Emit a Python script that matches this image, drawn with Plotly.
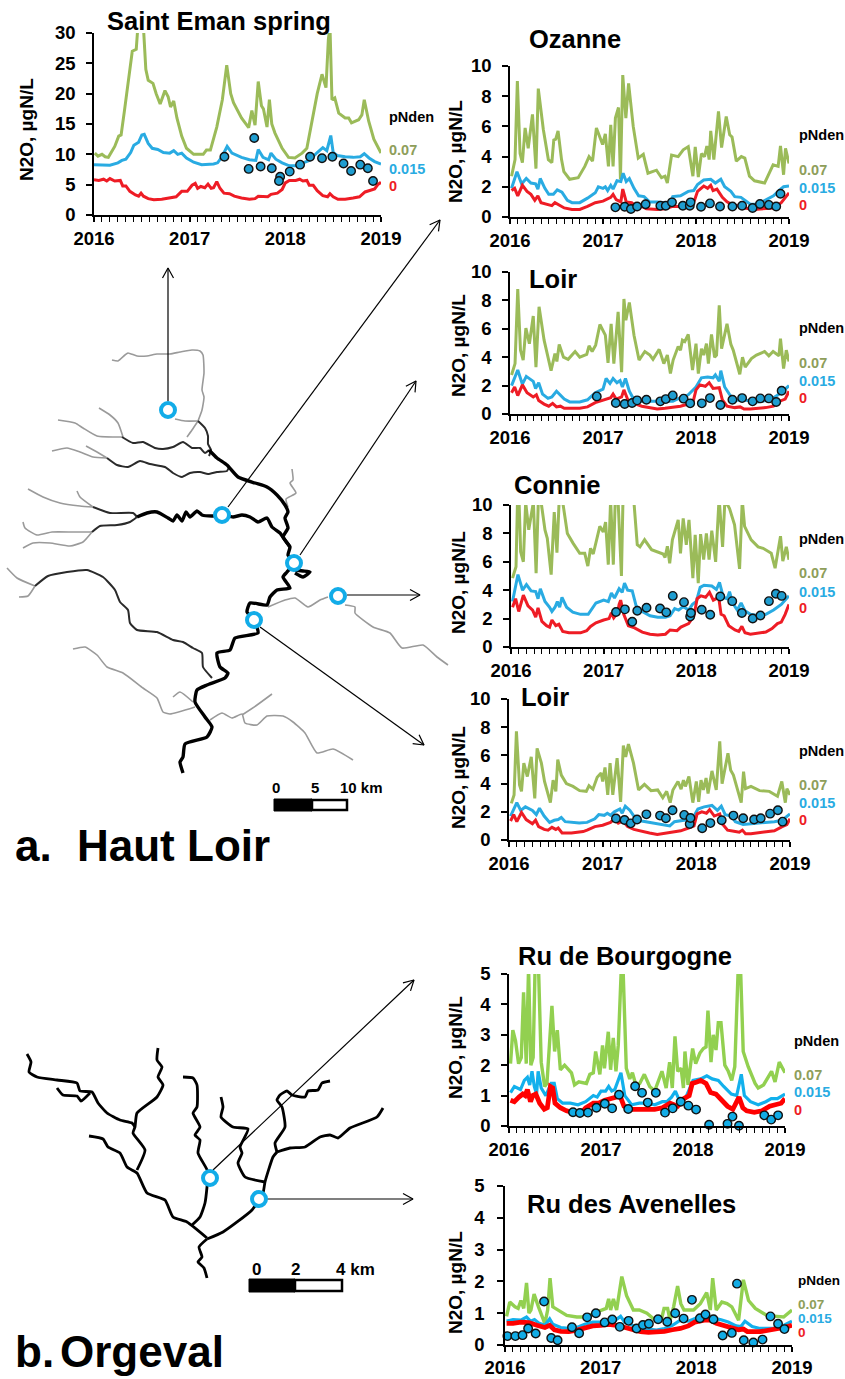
import plotly.graph_objects as go

# ---- time axis: months since January 2016 ----
year_ticks = [0, 12, 24, 36]
year_labels = ["2016", "2017", "2018", "2019"]

# ---- Saint Eman spring ----
eman_green = [(0.1,10.2),(0.5,9.7),(1,10),(1.4,9.6),(1.8,9.5),(2.2,10.5),(2.6,11.3),(3.1,13),(3.4,13.2),(3.8,17),(4.3,22),(4.8,27),(5.3,27.3),(5.5,31),(6.2,31),(6.5,24),(6.8,22.2),(7.4,21.7),(7.8,20),(8.3,18.3),(8.9,20.5),(9.3,19.5),(9.6,17.8),(10,18.8),(10.4,16),(11,13),(11.6,11),(12.5,10),(13.3,10),(13.7,10),(14.1,10.7),(14.6,10.7),(15.4,14.5),(16.1,19),(16.65,24.7),(17.15,20),(17.5,18.5),(18.1,17),(18.5,16),(19.4,14.4),(19.8,17.2),(20.2,14.8),(20.6,22),(21,18),(21.25,17.5),(21.7,14.5),(22,19),(22.3,15),(22.7,13.5),(23.6,11),(24.4,9.5),(25.2,9.4),(26.1,10.2),(26.7,11),(27.3,15),(28,20),(28.6,23.2),(29.1,21),(29.4,29),(29.6,31),(29.85,19),(30.2,19.3),(30.7,16.8),(31.5,16),(31.95,16),(32.3,15.2),(33.2,15.7),(33.6,16.5),(33.9,19),(34.45,15.5),(35.1,12.5),(36,10.2)]
eman_blue = [(0,8.3),(1,8.3),(2,8.2),(3,8.6),(3.5,9),(4,9.2),(4.6,10.3),(5,11.5),(5.6,12),(6,13.2),(6.3,13.3),(6.8,11.8),(7.3,11),(8,10.8),(8.7,10.3),(9.5,10.2),(10,10.6),(10.5,10),(11,10.2),(11.6,9.4),(12.5,8.7),(13.5,8.3),(15,8.4),(15.5,8.6),(16,9.5),(16.7,11.3),(17.3,10.2),(18.5,9.5),(19.5,9.1),(20.3,9.0),(20.6,10.8),(21.2,9.5),(21.9,9.1),(22.2,10.2),(22.8,9.2),(23.6,8.6),(24.5,8.1),(25.3,8.1),(26,8.5),(27,9),(28,10.3),(28.7,11.1),(29.2,10.6),(29.7,13.1),(30,10.3),(30.5,9.8),(31.5,9.6),(32.5,9.5),(33.4,9.6),(33.9,10.1),(34.5,9.4),(35.2,8.8),(36,8.4)]
eman_red = [(0,5.8),(0.6,5.7),(1.2,5.9),(1.6,5.6),(2,6),(2.6,5.6),(3.3,5.7),(3.6,4.8),(4,4.8),(4.5,3.9),(5.2,3.3),(5.6,3.1),(5.9,3.6),(6.2,3.1),(6.8,2.7),(7.5,2.5),(8.5,2.6),(9.5,2.8),(10.3,3.0),(11,3.9),(11.7,3.9),(12.3,4.9),(12.7,5.2),(13,4.4),(13.4,4.7),(13.9,4.5),(14.3,5.1),(14.7,4.4),(15,4.5),(15.4,5.5),(15.8,4.4),(16.3,3.6),(17,3.5),(17.6,3.1),(18.5,2.8),(19.5,2.6),(20.2,2.7),(20.6,3.1),(21.2,3.1),(21.8,3),(22.2,3.4),(23,3.6),(23.6,4.2),(24,5.3),(24.5,5.7),(25.3,5.7),(25.8,5.9),(26.2,5.6),(26.7,5.7),(27,4.9),(27.5,4.9),(28,4),(28.7,3.2),(29.3,3.0),(29.6,3.5),(30,3),(30.6,2.6),(31.5,2.6),(32.5,2.8),(33.3,3),(34,3.8),(34.6,4),(35.2,4.3),(35.6,5),(36,5.4)]
eman_obs = [(16.36,9.6),(19.4,7.6),(20.1,12.7),(20.9,8),(22.3,7.7),(23.35,6.3),(23.2,5.6),(24.55,7.15),(25.85,8.3),(27.1,9.6),(28.6,9.35),(29.9,9.6),(31.3,8.5),(32.25,7.25),(33.4,8.3),(34.35,7.7),(35,5.6)]

# ---- Ozanne ----
ozanne_green = [(0.2,2.7),(0.65,3.8),(0.95,9.0),(1.3,4.2),(1.6,3.6),(1.95,5.9),(2.35,4.55),(2.9,6.8),(3.35,3.2),(3.65,8.5),(4.3,5.8),(4.95,3.8),(5.4,3.6),(5.65,5.1),(5.9,5.15),(6.2,5.7),(6.65,3.8),(6.95,3.0),(7.7,2.5),(8.8,2.6),(9.65,3.35),(10.2,4),(10.65,3.7),(11.15,5.9),(11.95,4.8),(12.3,5.5),(12.7,3.35),(13,6.1),(13.3,3.35),(13.6,6.55),(14,7.25),(14.25,2.5),(14.55,9.4),(14.95,6.55),(15.3,8.85),(15.9,6),(16.55,3.9),(17.2,4.15),(17.8,2.9),(18.9,3.1),(19.55,2.6),(20,2.7),(20.3,2.25),(20.85,4.1),(21.7,4),(22.35,4.45),(23,4.65),(23.6,2.7),(23.9,4.65),(24.3,2.65),(24.7,4.2),(25.1,4),(25.4,4.7),(25.7,3.8),(25.9,5.7),(26.3,3.8),(26.9,7),(27.3,4.6),(27.9,6.65),(28.35,5.45),(28.65,5.3),(29.2,3.7),(29.85,4),(30.3,3.9),(30.9,2.7),(31.55,2.4),(32.85,2.25),(33.95,3.45),(34.6,3.35),(34.9,4.7),(35.3,2.8),(35.55,4.55),(36,3.55)]
ozanne_blue = [(0.2,1.9),(0.9,3.0),(1.5,2.2),(2.1,2.55),(2.7,2.25),(3.3,2.2),(3.6,1.85),(3.9,2.55),(4.5,1.9),(5,1.5),(5.6,1.5),(6.1,1.8),(6.7,1.65),(7.4,1.1),(8,0.95),(9,0.95),(10,1.25),(11,1.6),(11.4,2),(12,1.9),(12.3,2),(12.6,1.75),(13,2.1),(13.3,1.85),(13.8,2.4),(14.3,2.35),(14.6,2.9),(15,2.35),(15.4,2.55),(16,1.9),(16.6,1.4),(17.3,1.35),(18,1),(19,1),(20,0.95),(20.7,0.95),(21,1.35),(22,1.4),(23,1.7),(23.7,1.75),(24.2,2.15),(25,2.45),(25.9,2.5),(26.5,2.25),(27.2,2.5),(27.7,2),(28.5,1.7),(29,1.35),(29.8,1.3),(30.5,1.0),(31,0.85),(32,0.85),(33,1.1),(34,1.4),(34.8,1.8),(35.3,2),(36,2.05)]
ozanne_red = [(0.2,1.75),(0.6,1.9),(1.0,1.4),(1.6,2.1),(2.2,1.7),(2.7,1.5),(3.2,1.1),(3.6,1.4),(4,0.95),(5,0.8),(5.4,0.75),(5.8,0.95),(6.4,0.8),(7,0.6),(8,0.5),(9,0.5),(10,0.7),(11,0.95),(12,1.05),(13,1.3),(13.3,1.5),(13.7,1.15),(14.3,1.0),(14.55,1.85),(15,1.0),(15.7,0.95),(16.3,0.7),(17,0.7),(17.6,0.55),(19,0.5),(20,0.55),(21,0.7),(22,0.7),(23,0.85),(23.8,1.1),(24.2,1.7),(25,2.05),(25.5,1.9),(25.9,2.1),(26.2,1.75),(26.7,1.85),(27.4,1.3),(28,1),(28.7,0.8),(29.5,0.75),(30.3,0.6),(31.5,0.5),(33,0.55),(34,0.6),(35,0.95),(35.5,1.3),(36,1.6)]
ozanne_obs = [(13.6,.64),(14.8,.68),(15.6,.53),(16.4,.7),(17.5,.84),(19.4,.75),(20.1,.75),(20.9,.97),(22.3,.75),(23.2,.75),(23.3,.97),(24.65,.68),(25.8,.9),(27.1,.7),(28.7,.7),(29.95,.75),(31.3,.6),(32.25,.86),(33.4,.8),(34.35,.7),(34.9,1.54)]

# ---- Loir (upper) ----
loir1_green = [(.2,2.75),(.65,3.55),(1,8.8),(1.35,4.5),(1.7,3.8),(2.05,6.05),(2.5,4.95),(3,6.9),(3.35,3.3),(3.75,7.55),(4.4,5.2),(4.8,4.15),(5.3,3.05),(5.8,4.25),(6.05,3.7),(6.35,4.9),(6.9,4),(7.5,3.85),(8.4,4.4),(9,4),(9.9,4.2),(10.2,4.8),(10.6,4.4),(11.05,4.85),(11.6,6.3),(12.3,5.55),(12.65,3.6),(13.05,6.35),(13.4,3.55),(13.95,7.2),(14.4,2.95),(14.7,8.1),(14.95,6.6),(15.4,7.85),(16,5.55),(16.65,3.8),(17.4,4.4),(18.05,4.15),(18.45,3.85),(19.25,4.55),(19.85,3.55),(20.3,4.15),(20.7,2.85),(21.05,3.8),(21.7,4.75),(22,4.5),(22.25,5.2),(22.55,5.1),(23,5.6),(23.55,3.1),(24,4.95),(24.3,2.85),(24.7,4.6),(25,4.15),(25.35,4.95),(25.6,3.55),(26,5.6),(26.4,4),(26.65,4.15),(27,7.65),(27.3,4.6),(28,6.35),(28.5,4.9),(28.8,4.5),(29.65,2.8),(30,4),(30.35,3.3),(31.15,3.9),(31.8,4.15),(32.85,4.4),(33.4,4.1),(33.95,4.4),(34.7,4.1),(34.9,5.3),(35.3,3.2),(35.65,4.5),(36,3.7)]
loir1_blue = [(.2,2),(1,3.1),(1.6,2.1),(2.1,2.65),(3,2.3),(3.3,1.8),(3.7,2.2),(4.2,1.4),(4.9,1.1),(5.4,1.2),(6,1.6),(7,1.05),(7.7,.85),(9,.85),(10,1.0),(11,1.5),(12,1.75),(12.4,2.5),(12.9,2.15),(13.3,2.5),(13.8,2.2),(14.2,2.35),(14.5,1.9),(14.9,2.5),(15.4,1.6),(16,1.0),(17,.9),(18,.9),(20,.85),(21,.9),(22,1.15),(23,1.35),(24,1.9),(24.7,2.55),(25.5,2.6),(26.2,2.55),(26.5,2.75),(27,2.3),(27.2,3.05),(27.7,1.9),(28.3,1.4),(29,.95),(30,1),(31,.9),(32,.85),(33,.95),(34,1.15),(35,1.5),(36,2)]
loir1_red = [(.2,1.5),(.6,1.9),(1,1.3),(1.6,2.05),(2.2,1.5),(3,1.2),(3.4,1.35),(3.7,.95),(4.4,.7),(5,.55),(5.5,.75),(6,.5),(6.5,.55),(7,.4),(9,.4),(10,.5),(11,.8),(12,1.0),(13,1.15),(13.3,1.4),(13.7,1.05),(14.4,1.2),(14.7,1.7),(15.2,1),(16,.75),(17,.55),(18,.45),(19,.35),(20,.4),(21,.45),(22,.55),(23,.7),(23.6,.8),(24,1.7),(24.5,2.05),(25.2,1.95),(25.7,2.2),(26.2,1.8),(27,1.85),(27.4,1.0),(28,.55),(29,.45),(29.7,.5),(30.2,.35),(31,.35),(33,.45),(34,.55),(34.8,.9),(35.5,1.05),(36,1.6)]
loir1_obs = [(11.2,1.24),(13.65,.77),(14.8,.7),(15.75,.77),(16.4,.96),(17.6,1.0),(19.4,.89),(20.1,1.05),(21,1.31),(22.4,1.08),(23.25,.75),(24.75,.75),(25.8,1.12),(27.15,.63),(28.7,1.0),(29.95,1.12),(31.3,.89),(32.3,1.1),(33.4,1.1),(34.35,.84),(35.05,1.64)]

# ---- Connie ----
connie_green = [(.2,4.85),(.65,5.65),(.85,10.5),(1.05,10.2),(1.25,6.7),(1.6,6),(1.9,10.2),(2.3,8.25),(2.9,10.2),(3.25,5.2),(3.55,10.5),(3.9,10.2),(4.4,8.25),(4.7,7.65),(5.2,5.1),(5.6,9.5),(5.95,6.65),(6.25,10.5),(6.7,10.2),(7.3,8),(8.05,7.3),(8.9,6.6),(9.55,6.6),(9.95,5.7),(10.3,6.95),(10.65,6.55),(11.5,8.5),(11.95,8.1),(12.25,8.8),(12.6,5.8),(12.9,10.35),(13.25,5.8),(13.5,10.35),(13.85,10.5),(14.3,5),(14.5,10.35),(15.4,10.5),(15.9,10.35),(16.35,7.2),(16.7,7.05),(17.3,7.55),(18.2,6.85),(19.7,6.55),(19.95,6.3),(20.25,7.1),(20.55,5.9),(20.9,7.55),(21.65,8.95),(21.95,6.6),(22.3,9.05),(22.7,7.2),(23.05,8.95),(23.55,4.85),(23.85,7.9),(24.25,4.5),(24.55,7.95),(24.95,6.15),(25.3,8),(25.65,6.15),(26,8.2),(26.5,6),(26.95,10.5),(27.4,7.05),(27.7,10.35),(28.3,9.75),(28.95,8.6),(29.6,5.5),(29.95,10.35),(30.25,8.5),(31.1,7.55),(32,7.05),(32.65,6.95),(33.7,6.6),(34.2,5.55),(34.9,7.8),(35.2,6.05),(35.65,7.05),(36,6.15)]
connie_blue = [(.2,3.2),(.9,5.1),(1.5,4),(2,4.4),(2.6,3.95),(3.2,3.9),(3.5,3.4),(3.8,4.1),(4.4,3.2),(5,2.8),(5.3,2.5),(5.7,2.8),(6,3.2),(6.3,2.8),(6.6,3.5),(7.2,2.8),(8,2.45),(9,2.3),(10,2.3),(10.5,2.7),(11,3.1),(12,3.3),(12.6,3.2),(13,3.8),(13.4,3.45),(14,4.1),(14.4,3.85),(14.7,4.5),(15.1,4),(15.7,3.95),(16.2,2.9),(17,2.5),(18,2.2),(19,2.1),(20,2.1),(20.6,2.2),(21.2,2.7),(21.7,2.6),(22.3,2.85),(23,2.6),(23.5,3),(24,3.2),(24.5,4.2),(25,4.35),(26,4.3),(26.6,4.05),(27,4.55),(27.5,3.5),(28,3.4),(28.3,3.9),(28.7,3.1),(29.3,2.6),(29.8,3.1),(30.3,2.55),(31,2.3),(32,2.2),(33,2.3),(34,2.6),(35,3),(36,3.6)]
connie_red = [(.2,2.8),(.6,3.4),(1,2.5),(1.6,3.65),(2.2,2.9),(2.8,2.6),(3.2,2.1),(3.5,2.75),(4,1.8),(4.6,1.5),(5,1.4),(5.3,1.9),(5.8,1.5),(6.2,1.6),(6.7,1.1),(7.5,1),(9,1),(9.8,1.15),(10.3,1.45),(11,1.7),(12,1.9),(12.7,2),(13,2.4),(13.3,2.05),(13.8,2.4),(14,3),(14.2,3.3),(14.6,2.3),(15.2,1.5),(16,1.35),(17,1.05),(18,.9),(19,.85),(20,.9),(20.6,1.2),(21.5,1.15),(22,1.4),(23,1.65),(23.7,2.2),(24.1,3.4),(24.6,3.6),(25.2,3.5),(25.7,3.85),(26.2,3.3),(26.9,3.5),(27.2,2.3),(27.6,2.2),(28.2,1.5),(29,1.2),(29.5,1.1),(29.9,1.45),(30.3,1),(31,.9),(32,.95),(33,1.05),(33.8,1.3),(34.5,1.65),(35,1.75),(35.5,2.3),(36,3)]
connie_obs = [(13.6,2.46),(14.75,2.65),(15.7,1.78),(16.35,2.55),(17.55,2.76),(19.3,2.71),(20.1,2.44),(20.95,3.6),(22.4,3.16),(23.2,2.14),(23.3,2.39),(24.7,2.62),(25.8,2.27),(27.1,3.56),(28.65,3.23),(29.9,2.39),(31.3,2.01),(32.3,2.22),(33.4,3.23),(34.3,3.75),(35.05,3.6)]

# ---- Loir (lower) ----
loir2_green = [(.3,2.6),(.65,3.2),(.95,7.7),(1.35,3.9),(1.6,3.45),(1.9,5.45),(2.35,4.5),(2.85,5.9),(3.3,2.95),(3.6,6.5),(4.15,5.45),(4.55,4.15),(5.3,2.65),(5.65,4.25),(6,3.45),(6.25,5.7),(6.7,4.6),(7.35,4),(8.2,3.8),(9.05,3.5),(9.9,3.45),(10.25,3.85),(10.75,3.6),(11.3,4.45),(11.8,4.75),(12,4.15),(12.3,5.15),(12.65,3.2),(12.95,5.45),(13.3,3.2),(13.85,5.8),(14.3,2.7),(14.65,6.7),(14.95,5.9),(15.3,6.8),(15.95,5.45),(16.6,3.55),(17.35,3.95),(18.2,3.5),(19.05,3.55),(19.7,3),(20.2,3.45),(20.65,2.65),(21,3.55),(21.65,4.15),(22.05,3.6),(22.35,4.25),(22.6,3.8),(23.05,4.5),(23.55,2.65),(24,4.15),(24.3,2.7),(24.6,4.25),(24.9,3.55),(25.25,4.4),(25.5,3.3),(26,4.9),(26.55,3.55),(27,7),(27.3,4),(28.05,6.15),(28.4,4.95),(28.75,4.6),(29.75,2.65),(30.05,4.85),(30.3,3.65),(31,3.8),(32.1,3.5),(33.35,3.45),(34.4,3.1),(34.95,4.15),(35.4,2.65),(35.6,3.65),(36,3.2)]
loir2_blue = [(.2,1.7),(1,2.65),(1.5,2.1),(2.1,2.35),(3,2.1),(3.5,1.8),(3.9,2.25),(4.5,1.7),(5.2,1.25),(5.8,1.4),(6.3,1.45),(6.7,1.6),(7.2,1.3),(8,1.25),(9,1.2),(10,1.25),(11,1.5),(11.5,1.8),(12.2,1.75),(12.6,1.9),(13,1.75),(13.5,2),(14.2,2.2),(14.5,1.9),(14.9,2.4),(15.5,2.1),(16,1.7),(17,1.35),(18,1.25),(19,1.15),(20,1.1),(20.6,1.0),(21.2,1.3),(22,1.35),(23,1.45),(23.7,1.7),(24.2,2.2),(25,2.35),(26,2.45),(26.7,2.1),(27.2,2.4),(27.7,1.8),(28.5,1.7),(29,1.3),(30,1.1),(31,1.15),(32,1.2),(33,1.2),(34,1.3),(35,1.4),(36,1.85)]
loir2_red = [(.2,1.35),(.6,1.8),(1,1.3),(1.6,1.95),(2.2,1.45),(3,1.15),(3.4,1.4),(3.8,.95),(4.5,.75),(5,.7),(5.5,.9),(6,.75),(6.3,.85),(6.8,.5),(8,.5),(9.5,.6),(10,.7),(11,.95),(12,1.05),(13,1.25),(13.5,1.5),(14,1.2),(14.6,1.35),(15.2,.95),(16,.75),(17,.6),(18,.5),(19,.4),(20,.5),(21,.6),(22,.65),(23,.85),(23.7,1),(24.1,1.85),(24.7,2),(25.3,1.9),(25.7,2.15),(26.3,1.7),(27,1.85),(27.4,1.1),(28,.7),(29,.6),(29.5,.55),(29.9,.7),(30.3,.45),(31,.45),(33,.55),(34,.65),(35,.95),(35.6,1.1),(36,1.5)]
loir2_obs = [(13.7,1.52),(14.8,1.42),(15.6,1.18),(16.4,1.45),(17.6,1.82),(19.35,1.73),(20.1,1.54),(20.95,2.11),(22.45,1.78),(23.15,1.14),(23.25,1.56),(24.75,.83),(25.8,1.2),(27.25,1.4),(28.75,1.73),(30,1.54),(31.4,1.45),(32.25,1.54),(33.45,1.87),(34.45,2.11),(35.05,1.3)]

# ---- Ru de Bourgogne ----
bourg_green = [(.2,2.05),(.5,3.15),(.85,2.8),(1.25,2.05),(1.6,2.25),(1.9,4.4),(2.25,2.05),(2.55,5.2),(2.85,2),(3.15,2.25),(3.4,5.2),(3.85,5.2),(4.2,2.1),(4.65,1.3),(4.95,1.4),(5.3,3),(5.6,3.95),(5.95,2.45),(6.3,3.15),(6.7,1.85),(7.25,2),(8.15,1.75),(8.55,1.35),(9.1,1.45),(10.1,1.4),(10.55,1.7),(11,1.75),(11.3,2.45),(11.85,1.7),(12.2,2.65),(12.45,1.9),(12.95,3.1),(13.25,1.85),(13.6,2.9),(13.95,1.8),(14.25,2.65),(14.65,5.2),(14.9,5),(15.3,1.9),(15.75,1.55),(16.1,1.75),(16.6,1.3),(17.05,1.4),(17.65,1.7),(18.35,1.3),(19,1.15),(19.95,1.8),(20.5,1.25),(20.95,2.1),(21.3,1.25),(21.65,2.95),(22,1.8),(22.45,1.9),(22.75,1.25),(22.95,2.45),(23.35,1.35),(23.95,2.55),(24.35,2.05),(24.9,2.4),(25.35,2.55),(25.7,2.6),(25.95,3.8),(26.35,2.1),(26.65,3),(27,2.5),(27.3,3.4),(27.65,3.4),(28.15,2),(28.6,1.8),(29.05,1.5),(29.45,1.95),(29.9,5.2),(30.2,5.2),(30.55,2.45),(31.2,1.95),(32.1,1.4),(32.5,1.25),(33.2,1.35),(34.25,1.8),(34.7,1.45),(35.25,2.1),(36,1.75)]
bourg_blue = [(.2,1.1),(.7,1.3),(1.5,1.2),(2,1.5),(2.4,1.6),(2.7,1.35),(3,1.8),(3.3,1.3),(3.6,1.05),(3.8,1.8),(4.2,1.25),(4.8,1),(5.5,1.4),(5.9,1.4),(6.3,.9),(7,.75),(8,.75),(9,.7),(10,.8),(11,1),(11.5,.95),(12,1.15),(12.6,1.15),(13,1.3),(13.4,1.15),(13.8,1.2),(14.6,1.75),(15.1,1.0),(16,.7),(17,.75),(18,.75),(19,.7),(20,.8),(20.6,.8),(21.2,.95),(21.7,1.15),(22.2,.85),(23,.9),(23.5,1.2),(24,1.5),(25,1.55),(25.8,1.65),(26.5,1.55),(27.3,1.5),(28,1.3),(29,1.05),(29.7,1),(30.3,1.7),(30.7,1),(31.5,.8),(32.5,.7),(33.5,.8),(34.2,.9),(35,.9),(36,1.05)]
bourg_red = [(.2,.85),(.7,.8),(1.3,.95),(1.8,1.05),(2.1,1),(2.4,1.2),(2.8,.8),(3.1,1),(3.5,1.05),(4,.75),(4.6,.55),(5,.6),(5.4,1.3),(5.7,1.25),(6,.75),(6.7,.6),(7.5,.5),(8.5,.43),(9.5,.45),(10,.6),(11,.75),(11.7,.75),(12.5,.85),(13.5,.9),(14,.95),(14.4,1.05),(15,.65),(16,.55),(17,.55),(18,.55),(19,.55),(20,.6),(21,.75),(22,.65),(22.8,.9),(23.5,1.0),(23.9,1.4),(24.5,1.45),(25,1.5),(25.7,1.4),(26.3,1.1),(27,1.05),(27.8,.85),(28.5,.65),(29.2,.55),(29.7,.85),(30,.95),(30.5,.6),(31,.5),(32,.45),(33,.5),(34,.65),(35,.7),(35.5,.75),(36,.9)]
bourg_obs = [(8.35,.45),(9.25,.43),(10.3,.44),(11.4,.6),(12.5,.73),(13.45,.58),(14.35,1.03),(15.55,.56),(16.45,1.31),(17.35,1.09),(18.1,.77),(19.15,1.09),(20.35,.44),(21.35,.58),(22.4,.8),(23.4,.67),(24.4,.54),(26.1,.04),(28.5,.07),(29.15,.31),(30,.01),(33.3,.35),(34.2,.21),(35.1,.35)]

# ---- Ru des Avenelles ----
aven_green = [(.2,.9),(.6,1.35),(1.25,1.2),(1.65,1.15),(2,1.4),(2.35,1.15),(2.7,1.95),(3,1),(3.25,1.1),(3.65,1.6),(4.2,1.2),(5,.67),(5.35,1.1),(5.65,2.1),(6,1.2),(6.7,1.1),(7.75,.93),(9,.88),(10.25,.88),(11.1,1),(12.15,1.1),(12.7,1.15),(13,1.45),(13.25,1.1),(13.6,1.45),(14,1.1),(14.65,2.15),(15.25,1.55),(16.1,1.1),(16.85,1.1),(17.8,1),(18.85,.78),(19.65,.83),(19.95,1.15),(20.4,1.15),(20.7,.78),(21.15,1.2),(21.65,1.85),(22.05,1.3),(22.45,1.1),(23.65,1.1),(24.5,1.3),(25.3,1.65),(25.75,1.1),(26.05,2.1),(26.5,1.1),(27.2,1.35),(27.85,1.3),(28.45,1.2),(29.3,.78),(29.9,2.05),(30.55,1.4),(31.4,1.15),(32.85,.93),(34.1,.9),(34.95,.88),(36,1.1)]
aven_blue = [(.2,.75),(1,.8),(2,.78),(2.7,.88),(3.2,.75),(3.7,.8),(4.3,.68),(5,.62),(5.6,.82),(6,.65),(7,.55),(8,.52),(9,.55),(10,.65),(11,.72),(12,.72),(13,.78),(13.7,.75),(14.5,.9),(15,.72),(16,.62),(17,.55),(18,.5),(19,.47),(20,.52),(21,.62),(22,.78),(23,.75),(24,.85),(25,.95),(26,.85),(27,.8),(28,.72),(29,.6),(29.6,.58),(30.1,.75),(31,.58),(32,.52),(33.5,.52),(35,.62),(36,.75)]
aven_red = [(.2,.68),(1,.68),(2,.72),(3,.7),(4,.62),(5,.55),(5.6,.62),(6.2,.48),(7,.43),(8,.42),(9,.47),(10,.55),(11,.6),(12,.62),(13,.65),(14,.62),(15,.55),(16,.48),(17,.42),(18,.4),(19,.4),(20,.43),(21,.48),(22,.52),(23,.6),(23.8,.72),(25,.78),(25.8,.78),(26.5,.68),(27.5,.62),(28.5,.55),(29.3,.48),(29.9,.5),(30.4,.42),(32,.42),(33.5,.47),(35,.55),(36,.62)]
aven_obs = [(.3,.28),(1.3,.28),(2.2,.31),(2.9,.52),(3.85,.36),(4.9,1.37),(5.8,.22),(6.6,.15),(8.4,.56),(9.3,.37),(10.3,.87),(11.4,1),(12.5,.71),(13.45,.8),(14.4,.57),(15.5,.76),(16.5,.52),(17.3,.63),(18.05,.67),(19.2,.81),(20.35,.73),(21.35,1),(22.4,.83),(23.45,1.42),(24.45,.84),(25.15,.96),(26.15,.81),(27.3,.3),(28.45,.38),(29.1,1.93),(29.95,.15),(31.15,.08),(32.3,.17),(33.3,.9),(34.25,.67),(35.05,.5)]

# ---- Haut Loir river network (map coordinates) ----
hl_grey = [
 [(112,360),(118,361),(125,355),(128,353),(137,356),(147,356),(157,354),(170,354),(180,352),(192,350),(200,351),(203,355),(204,373),(202,390),(204,397),(202,410),(198,421)],
 [(198,421),(192,430),(187,437)],
 [(58,420),(75,423),(83,428),(97,436),(122,437)],
 [(99,408),(110,415),(118,423),(123,437)],
 [(52,451),(67,448),(80,452),(93,457),(107,458)],
 [(86,446),(97,452),(107,458)],
 [(28,489),(43,497),(60,503),(80,506),(93,507)],
 [(77,491),(80,497),(93,507)],
 [(23,522),(25,528),(37,535),(52,532),(73,532),(92,532)],
 [(23,548),(33,543),(50,543),(70,546),(83,542),(92,532)],
 [(7,568),(17,578),(35,586)],
 [(19,597),(28,596),(35,586)],
 [(73,649),(85,647),(97,655),(107,667),(123,673),(143,688),(157,698),(163,712),(170,714),(195,707)],
 [(173,697),(180,692),(193,702)],
 [(210,720),(222,713),(232,718),(242,714),(245,723),(257,725),(267,716),(283,716),(293,722),(305,733),(317,753),(333,749),(353,760)],
 [(242,715),(257,705),(272,694)],
 [(268,607),(285,600),(295,598),(308,607),(320,600),(328,597)],
 [(345,605),(355,607),(355,613),(373,627),(390,633),(402,648),(423,645),(437,657),(448,665)],
 [(292,469),(293,480),(290,483),(296,493),(286,499),(288,507)],
 [(175,419),(185,421),(198,421)],
]
hl_dark = [
 [(198,421),(205,428),(208,436),(208,444),(211,450),(209,456)],
 [(122,437),(133,443),(143,442),(155,448),(163,449),(173,447),(183,442),(192,448),(200,448),(205,453),(209,450)],
 [(107,458),(117,465),(128,467),(140,461),(150,464),(165,467),(173,473),(182,477),(190,473),(200,472),(208,474),(217,472),(227,471),(229,467)],
 [(93,507),(110,513),(133,513),(137,517)],
 [(92,532),(100,526),(117,525),(130,522),(137,517)],
 [(35,586),(48,576),(67,572),(87,570),(103,577),(115,590),(120,602),(128,610),(130,623),(137,630),(157,632),(173,640),(183,642),(193,648),(202,653),(203,667),(212,678)],
]
hl_main = [
 [(209,450),(217,458),(227,465),(238,477),(255,483),(267,487),(277,495),(285,505),(288,512),(285,518),(288,528),(283,537),(290,547),(288,555),(294,563),(287,572),(283,577),(290,588),(277,590),(270,597),(267,605),(250,603),(247,612),(254,620),(258,633),(235,638),(230,650),(217,653),(220,667),(228,673),(225,678),(207,685),(197,690),(195,702),(205,717),(212,727),(207,737),(185,744),(183,757),(180,762),(183,773)],
 [(295,573),(303,577),(310,572),(303,571),(295,570)],
 [(137,517),(147,513),(157,512),(168,518),(173,521),(177,515),(182,521),(186,512),(190,517),(197,511),(202,515),(213,516),(222,515),(233,517),(242,515),(250,517),(258,522),(267,518),(272,527),(280,533),(285,540),(290,547)],
]
hl_sites = [(168,410),(222,515),(294,563),(338,596),(254,620)]

# ---- Orgeval river network (map coordinates) ----
og_rivers = [
 [(27,1054),(31,1062),(29,1072),(37,1077),(57,1080),(77,1083),(80,1091),(92,1092),(98,1103),(107,1113),(120,1120),(132,1123),(135,1127)],
 [(57,1088),(63,1095),(77,1096),(81,1101),(90,1093)],
 [(158,1048),(157,1060),(162,1067),(158,1077),(163,1085),(157,1097),(137,1113),(135,1127),(133,1133),(145,1150),(137,1170)],
 [(89,1136),(103,1139),(108,1147),(120,1153),(127,1167),(137,1173),(147,1193),(165,1200),(173,1217),(187,1222),(207,1238)],
 [(183,1077),(193,1078),(197,1085),(197,1107),(193,1113),(200,1127),(195,1135),(200,1140),(198,1153),(208,1172),(207,1187),(205,1203),(200,1217),(192,1225)],
 [(207,1239),(199,1247),(202,1257),(198,1262),(204,1268),(207,1278)],
 [(207,1239),(223,1232),(252,1210),(263,1193),(265,1182),(273,1157),(277,1152)],
 [(277,1152),(275,1143),(285,1127),(282,1107),(277,1100),(280,1095),(287,1091),(292,1095),(305,1097),(308,1091),(318,1090),(322,1083),(330,1081)],
 [(277,1152),(290,1148),(305,1147),(320,1137),(330,1135),(338,1138),(350,1128),(377,1117),(383,1108)],
 [(221,1097),(223,1107),(221,1117),(233,1127),(248,1129),(240,1147),(242,1153),(238,1163),(245,1177),(265,1182)],
]
og_sites = [(210,1178),(259,1199)]

# start and tip of each arrow from a site to its chart
arrows = [((168,401),(168,268)),((228,507),(440,220)),((300,555),(416,381)),((347,595),(420,595)),((260,627),(424,745)),((213,1170),(414,980)),((267,1199),(413,1199))]

FONT = "Liberation Sans"
OLIVE, SKY, RED = "#9BBB59", "#29ABE2", "#EE1C25"

panels = [
 dict(t="Saint Eman spring", g=eman_green, b=eman_blue, r=eman_red, o=eman_obs, box=(94,381,33,215), ymax=30, dt=5, tx=219, ty=21, yx=26, yy=130, lx=387, ly=(117,150,169,186), ls=14.5, xso=1, yso=7),
 dict(t="Ozanne", g=ozanne_green, b=ozanne_blue, r=ozanne_red, o=ozanne_obs, box=(510,789,66,217), ymax=10, dt=2, tx=575, ty=39, yx=455, yy=152, lx=797, ly=(135,170,188,205), ls=14.5, xso=1, yso=7),
 dict(t="Loir", g=loir1_green, b=loir1_blue, r=loir1_red, o=loir1_obs, box=(510,789,272,414), ymax=10, dt=2, tx=553, ty=279, yx=458, yy=346, lx=797, ly=(328,363,381,398), ls=14.5, xso=1, yso=7),
 dict(t="Connie", g=connie_green, b=connie_blue, r=connie_red, o=connie_obs, box=(511,789,505,647), ymax=10, dt=2, tx=557, ty=485, yx=458, yy=583, lx=797, ly=(539,573,592,608), ls=14.5, xso=1, yso=7),
 dict(t="Loir", g=loir2_green, b=loir2_blue, r=loir2_red, o=loir2_obs, box=(509,790,699,840), ymax=10, dt=2, tx=545, ty=697, yx=458, yy=778, lx=797, ly=(751,785,803,820), ls=14.5, xso=1, yso=7),
 dict(t="Ru de Bourgogne", g=bourg_green, b=bourg_blue, r=bourg_red, o=bourg_obs, box=(509,785,974,1126), ymax=5, dt=1, tx=625, ty=956, yx=455, yy=1048, lx=792, ly=(1041,1075,1092,1110), ls=14.5, xso=1, yso=7),
 dict(t="Ru des Avenelles", g=aven_green, b=aven_blue, r=aven_red, o=aven_obs, box=(505,792,1186,1345), ymax=5, dt=1, tx=631, ty=1204, yx=455, yy=1283, lx=796, ly=(1280,1304,1318,1332), ls=13.5, xso=0, yso=9),
]

W, H = 845, 1379
MAPX, MAPY = "x8", "y8"
fig = go.Figure()
layout = dict(template="none", width=W, height=H, margin=dict(l=0, r=0, t=0, b=0, autoexpand=False), showlegend=False,
              paper_bgcolor="white", plot_bgcolor="rgba(0,0,0,0)",
              font=dict(family=FONT, color="black"))
ann, shapes = [], []

def text(s, x, y, size, color="black", xanchor="center", angle=0, weight="bold"):
    ann.append(dict(text=s, x=x, y=y, xref=MAPX, yref=MAPY, showarrow=False, xanchor=xanchor, yanchor="middle",
                    textangle=angle, font=dict(family=FONT, size=size, color=color, weight=weight)))

def polyline(points, color, width):
    fig.add_trace(go.Scatter(x=[p[0] for p in points], y=[p[1] for p in points], mode="lines", xaxis=MAPX, yaxis=MAPY,
                             line=dict(color=color, width=width, shape="spline", smoothing=0.5), hoverinfo="skip"))

# map layer
for r in hl_grey:
    polyline(r, "#9A9A9A", 1.6)
for r in hl_dark:
    polyline(r, "#2A2A2A", 2.0)
for r in hl_main:
    polyline(r, "black", 3.4)
for r in og_rivers:
    polyline(r, "black", 2.8)

for (x0, y0), (x1, y1) in arrows:
    dx, dy = x1 - x0, y1 - y0
    n = (dx * dx + dy * dy) ** 0.5
    ux, uy = dx / n, dy / n
    hx, hy = -ux * 10, -uy * 10
    px, py = -uy * 5.5, ux * 5.5
    fig.add_trace(go.Scatter(x=[x0, x1, None, x1 + hx + px, x1, x1 + hx - px],
                             y=[y0, y1, None, y1 + hy + py, y1, y1 + hy - py],
                             mode="lines", xaxis=MAPX, yaxis=MAPY, line=dict(color="black", width=1.2), hoverinfo="skip"))

sites = hl_sites + og_sites
fig.add_trace(go.Scatter(x=[s[0] for s in sites], y=[s[1] for s in sites], mode="markers", xaxis=MAPX, yaxis=MAPY,
                         marker=dict(size=14, color="white", line=dict(color="#12ACE8", width=4)), hoverinfo="skip"))

# scale bars
for (x0, x1, x2, y0, y1) in [(274, 312, 347, 799, 811), (249, 295, 342, 1279, 1292)]:
    shapes.append(dict(type="rect", xref=MAPX, yref=MAPY, x0=x0, x1=x1, y0=y0, y1=y1, fillcolor="black", line=dict(color="black", width=1)))
    shapes.append(dict(type="rect", xref=MAPX, yref=MAPY, x0=x1, x1=x2, y0=y0 + 1, y1=y1 - 1, fillcolor="white", line=dict(color="black", width=2.5)))
text("0", 276, 787, 15); text("5", 315, 787, 15); text("10 km", 361, 787, 15)
text("0", 256, 1269, 17); text("2", 295, 1269, 17); text("4 km", 355, 1269, 17)
text("a.", 13, 845, 44, xanchor="left"); text("Haut Loir", 75, 845, 44, xanchor="left")
text("b.", 13, 1351, 44, xanchor="left"); text("Orgeval", 58, 1351, 44, xanchor="left")

# chart panels
for i, p in enumerate(panels, start=1):
    l, r, t, b = p["box"]
    bright = i >= 6
    xa, ya = f"x{i}", f"y{i}"
    green = "#92D050" if bright else OLIVE
    red = "#FF0000" if bright else RED
    blue = "#12B0EC" if bright else SKY
    widths = (3.4, 3.2, 4.8) if bright else (3, 3, 3)
    for s, c, w in ((p["g"], green, widths[0]), (p["b"], blue, widths[1]), (p["r"], red, widths[2])):
        fig.add_trace(go.Scatter(x=[q[0] for q in s], y=[q[1] for q in s], mode="lines", xaxis=xa, yaxis=ya,
                                 line=dict(color=c, width=w)))
    fig.add_trace(go.Scatter(x=[q[0] for q in p["o"]], y=[q[1] for q in p["o"]], mode="markers", xaxis=xa, yaxis=ya, cliponaxis=False,
                             marker=dict(size=8.5, color="#12ACE6" if bright else "#1F9DD0", line=dict(color="#111111", width=1.4))))
    tickfont = dict(family=FONT, size=18.5, color="black", weight="bold")
    layout[f"xaxis{i}"] = dict(
        domain=[l / W, r / W], anchor=ya, range=[0, 36], tickmode="array", tickvals=year_ticks, ticktext=year_labels,
        automargin=False, ticks="outside", ticklen=5, tickwidth=1.5, tickcolor="black", showgrid=False, zeroline=False,
        showline=True, linecolor="black", linewidth=1.5, tickfont=tickfont, ticklabelstandoff=p["xso"],
        minor=dict(tickmode="linear", tick0=0, dtick=1, ticks="outside", ticklen=5, tickwidth=1, tickcolor="black", showgrid=False))
    layout[f"yaxis{i}"] = dict(
        domain=[1 - b / H, 1 - t / H], anchor=xa, range=[0, p["ymax"]], dtick=p["dt"], tick0=0, automargin=False,
        ticks="outside", ticklen=6, tickwidth=1.5, tickcolor="black", showgrid=False, zeroline=False,
        showline=True, linecolor="black", linewidth=1.5, tickfont=tickfont, ticklabelstandoff=p["yso"])
    text(p["t"], p["tx"], p["ty"], 25.5)
    text("N2O, µgN/L", p["yx"], p["yy"], 19, angle=-90)
    ly = p["ly"]
    text("pNden", p["lx"], ly[0], p["ls"], xanchor="left")
    text("0.07", p["lx"], ly[1], p["ls"], color="#8E9E5A", xanchor="left")
    text("0.015", p["lx"], ly[2], p["ls"], color="#29ABE2", xanchor="left")
    text("0", p["lx"], ly[3], p["ls"], color="#EE1C25", xanchor="left")

layout["xaxis8"] = dict(domain=[0, 1], range=[0, W], visible=False, anchor="y8", fixedrange=True, automargin=False)
layout["yaxis8"] = dict(domain=[0, 1], range=[H, 0], visible=False, anchor="x8", fixedrange=True, automargin=False)
layout["annotations"] = ann
layout["shapes"] = shapes
fig.update_layout(**layout)
fig.write_html("out.html", config=dict(displayModeBar=False, responsive=False), post_script="document.body.style.margin='0';")
